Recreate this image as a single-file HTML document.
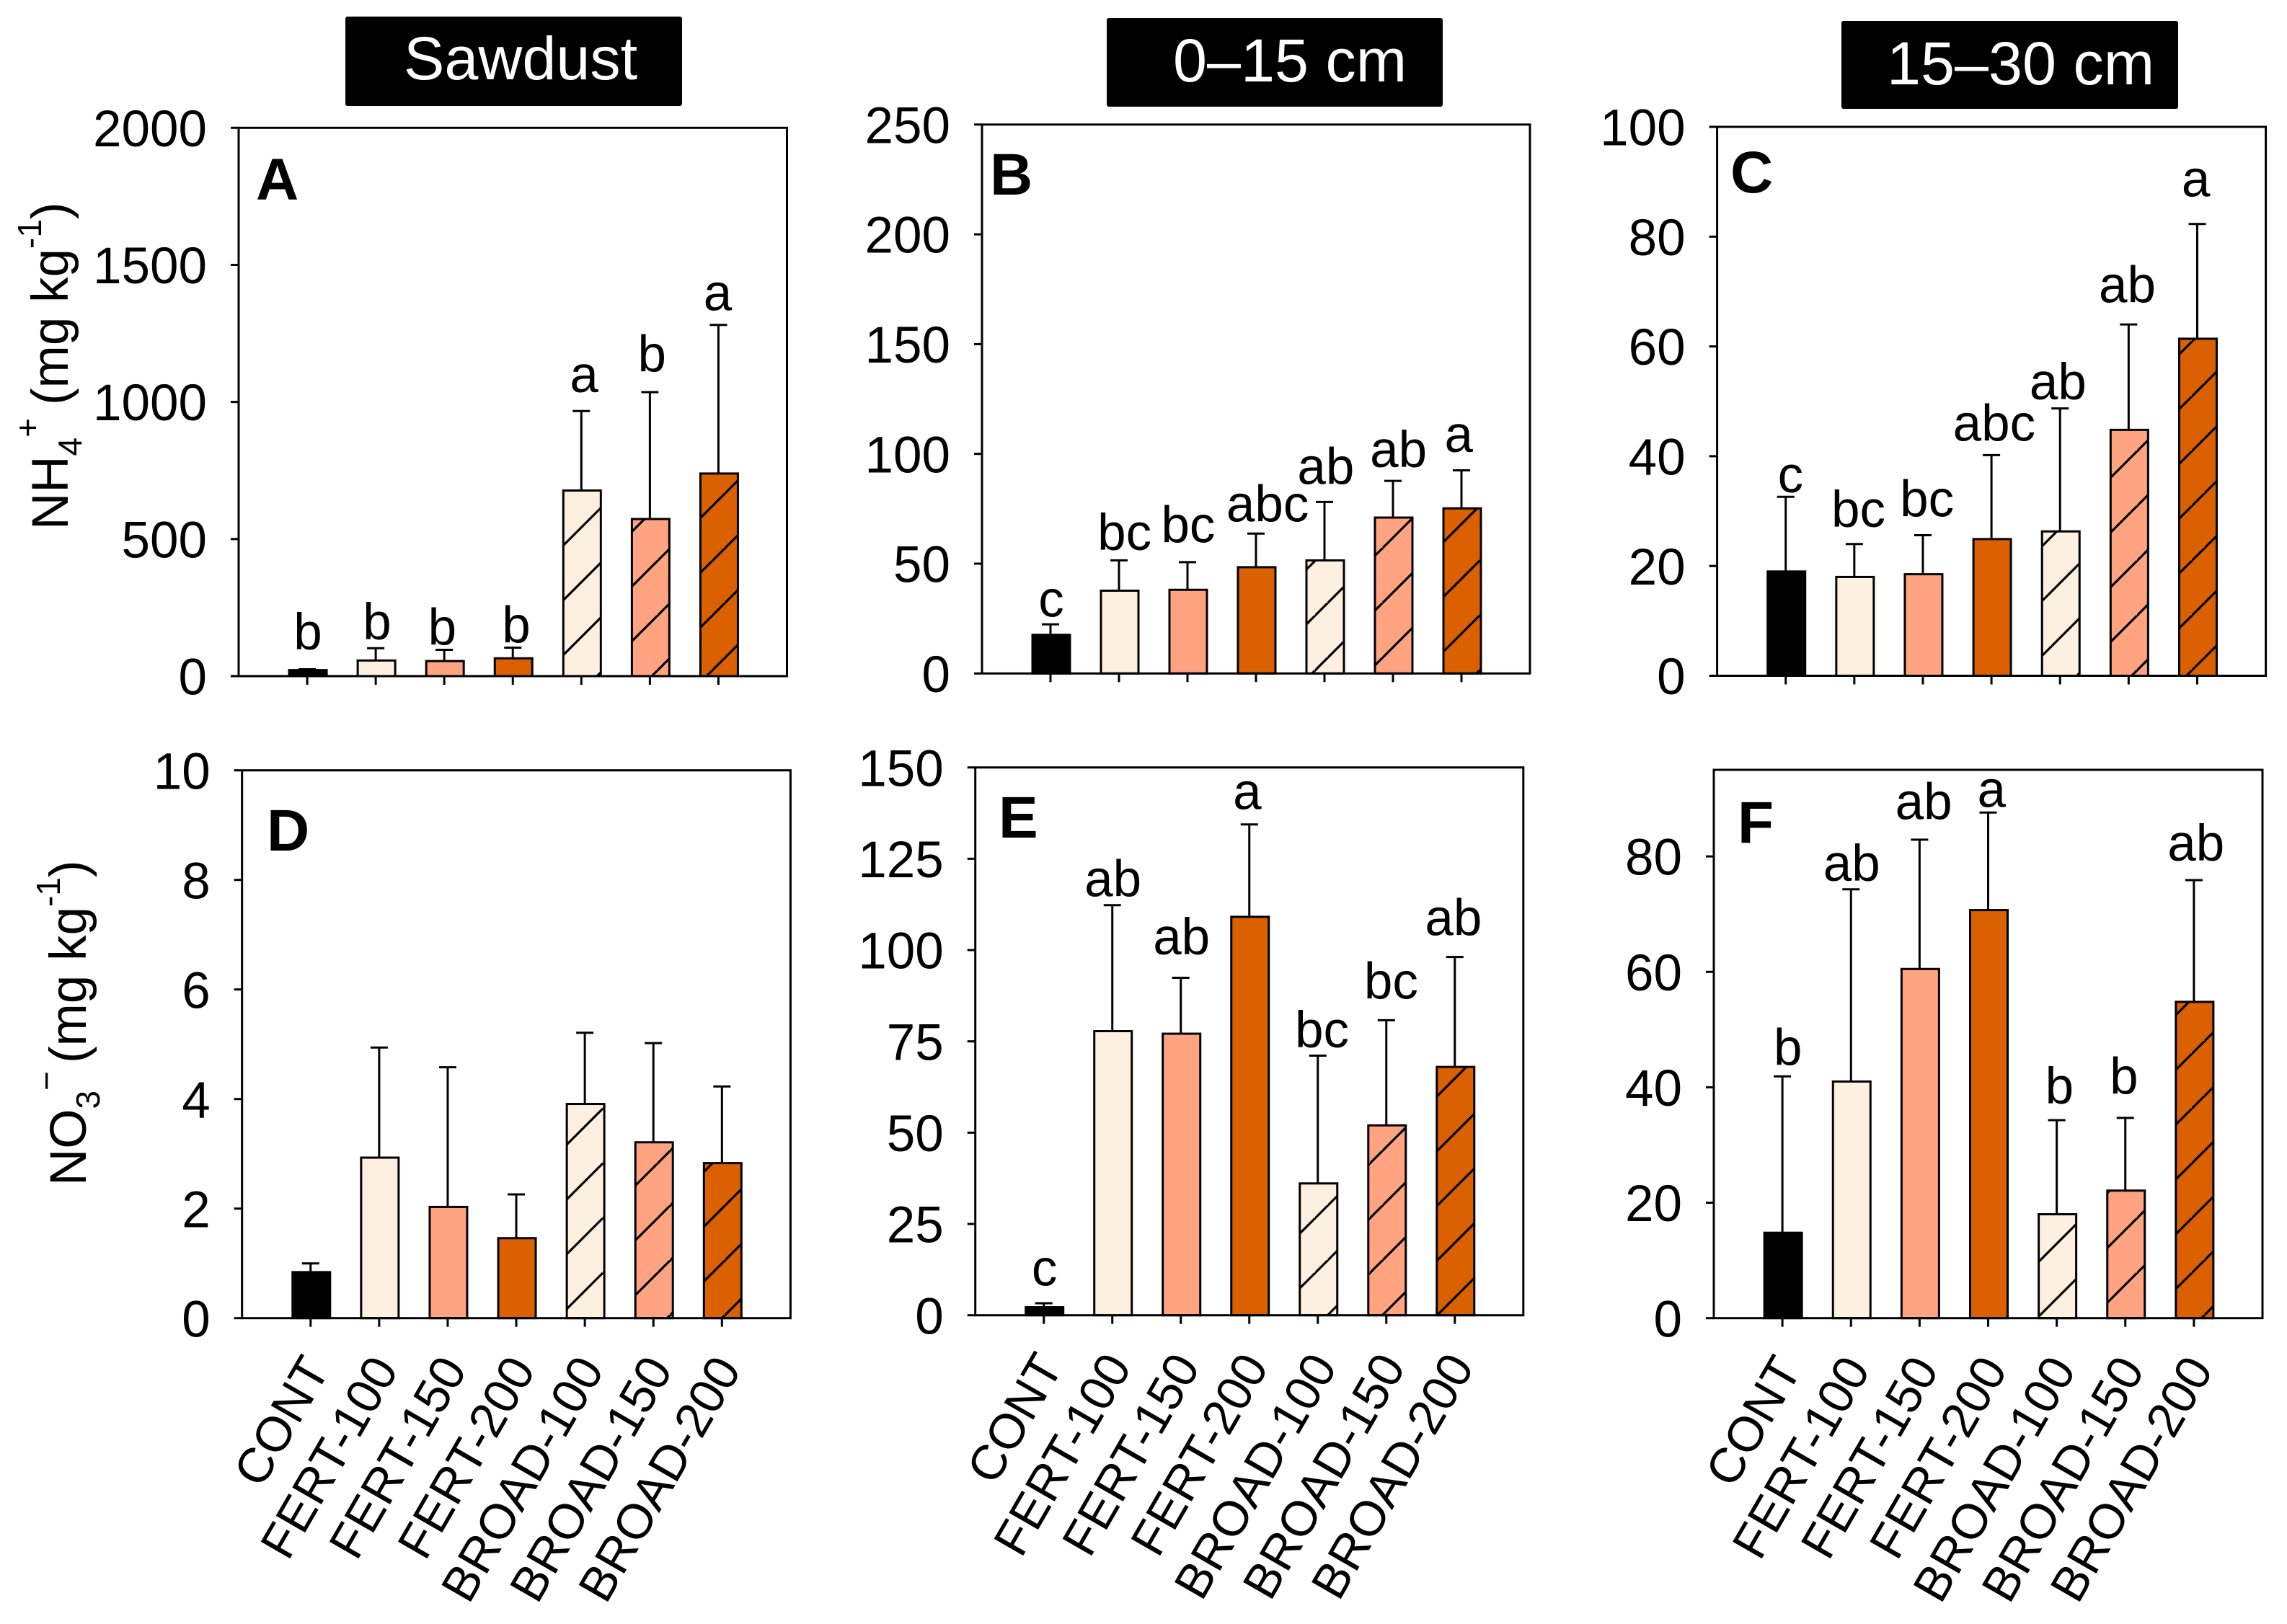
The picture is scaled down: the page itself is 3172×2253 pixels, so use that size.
<!DOCTYPE html>
<html lang="en">
<head>
<meta charset="utf-8">
<title>Soil NH4+ and NO3- by treatment</title>
<style>
html,body{margin:0;padding:0;background:#fff;}
body{width:3172px;height:2253px;overflow:hidden;}
svg{display:block;}
text{font-family:"Liberation Sans",sans-serif;fill:#000;}
</style>
</head>
<body>
<svg id="figure" xmlns="http://www.w3.org/2000/svg" width="3172" height="2253" viewBox="0 0 3172 2253">
  <defs>
    <pattern id="hatch" patternUnits="userSpaceOnUse" width="76" height="76">
      <line x1="-20" y1="38" x2="38" y2="-20" stroke="#000" stroke-width="3.2"/>
      <line x1="18" y1="76" x2="76" y2="18" stroke="#000" stroke-width="3.2"/>
      <line x1="56" y1="114" x2="114" y2="56" stroke="#000" stroke-width="3.2"/>
    </pattern>
  </defs>
  <rect width="3172" height="2253" fill="#fff"/>

  <g>
    <rect x="479" y="23" width="467" height="124" rx="3" fill="#000"/>
    <text x="560" y="110" font-size="84.5" style="fill:#fff">Sawdust</text>
  </g>
  <g>
    <rect x="1535" y="25" width="466" height="123" rx="3" fill="#000"/>
    <text x="1627" y="113" font-size="84.5" style="fill:#fff">0–15 cm</text>
  </g>
  <g>
    <rect x="2554" y="29" width="467" height="122" rx="3" fill="#000"/>
    <text x="2617" y="117" font-size="84.5" style="fill:#fff">15–30 cm</text>
  </g>

  <text transform="translate(94,735) rotate(-90)" font-size="71">NH<tspan dy="19" font-size="46">4</tspan><tspan dy="-59" font-size="46">+</tspan><tspan dy="40" dx="18">(mg kg</tspan><tspan dy="-37" font-size="46">-1</tspan><tspan dy="37">)</tspan></text>
  <text transform="translate(119,1645) rotate(-90)" font-size="71">NO<tspan dy="19" font-size="46">3</tspan><tspan dy="-58" font-size="46">−</tspan><tspan dy="39" dx="11">(mg kg</tspan><tspan dy="-36" font-size="46">-1</tspan><tspan dy="36">)</tspan></text>

  <g id="panels"></g>
</svg>

<script>
const categories = ["CONT", "FERT-100", "FERT-150", "FERT-200", "BROAD-100", "BROAD-150", "BROAD-200"];

const valuesA = [22, 57, 55, 65, 677, 573, 739];
const errTopA = [25, 102, 96, 104, 967, 1036, 1281];
const lettersA = ["b", "b", "b", "b", "a", "b", "a"];
const letterLiftA = [77, 37, 23, 23, 74, 80, 59];
const letterNudgeA = [0.01, 0.02, -0.03, 0.05, 0.04, 0.03, -0.01];
const ticksA = [0, 500, 1000, 1500, 2000];

const valuesB = [17.6, 37.7, 38.1, 48.4, 51.5, 71, 75.2];
const errTopB = [22.4, 51.5, 50.7, 63.7, 78.1, 87.7, 92.5];
const lettersB = ["c", "bc", "bc", "abc", "ab", "ab", "a"];
const letterLiftB = [4.2, 5.4, 9.6, 6.1, 8.8, 6.9, 9];
const letterNudgeB = [0.01, 0.08, 0.01, 0.17, 0.02, 0.08, -0.04];
const ticksB = [0, 50, 100, 150, 200, 250];

const valuesC = [19, 18, 18.5, 24.9, 26.3, 44.8, 61.4];
const errTopC = [32.6, 24, 25.6, 40.2, 48.7, 64, 82.3];
const lettersC = ["c", "bc", "bc", "abc", "ab", "ab", "a"];
const letterLiftC = [1.1, 3.4, 3.7, 2.9, 1.9, 4.3, 5.3];
const letterNudgeC = [0.07, 0.06, 0.06, 0.04, -0.03, -0.02, -0.02];
const ticksC = [0, 20, 40, 60, 80, 100];

const valuesD = [0.84, 2.93, 2.03, 1.46, 3.91, 3.21, 2.83];
const errTopD = [1.0, 4.94, 4.58, 2.26, 5.21, 5.02, 4.23];
const lettersD = ["", "", "", "", "", "", ""];
const letterLiftD = [0, 0, 0, 0, 0, 0, 0];
const letterNudgeD = [0, 0, 0, 0, 0, 0, 0];
const ticksD = [0, 2, 4, 6, 8, 10];

const valuesE = [2.2, 77.8, 77.1, 109.1, 36.1, 52, 68];
const errTopE = [3.3, 112.3, 92.4, 134.4, 71.1, 80.8, 98.1];
const lettersE = ["c", "ab", "ab", "a", "bc", "bc", "ab"];
const letterLiftE = [5.2, 2.8, 6.8, 4.6, 2.7, 6.3, 6.3];
const letterNudgeE = [0.01, 0.01, 0.01, -0.03, 0.06, 0.07, -0.02];
const ticksE = [0, 25, 50, 75, 100, 125, 150];

const valuesF = [14.8, 41, 60.5, 70.7, 18, 22.1, 54.8];
const errTopF = [41.9, 74.3, 82.9, 87.6, 34.3, 34.7, 75.9];
const lettersF = ["b", "ab", "ab", "a", "b", "b", "ab"];
const letterLiftF = [2.2, 1.7, 3.8, 1.2, 3.1, 4.4, 3.6];
const letterNudgeF = [0.08, 0.01, 0.06, 0.05, 0.04, -0.02, 0.03];
const ticksF = [0, 20, 40, 60, 80];

const barFills = ["#000000", "#FEF0E1", "#FFA381", "#DA6000", "#FEF0E1", "#FFA381", "#DA6000"];
const barHatched = [false, false, false, false, true, true, true];

const SVGNS = "http://www.w3.org/2000/svg";
const TICK_FONT = 71;
const XLABEL_FONT = 68;
const panelsRoot = document.getElementById("panels");

function make(parent, tag, attrs, text) {
  const node = document.createElementNS(SVGNS, tag);
  for (const key in attrs) node.setAttribute(key, attrs[key]);
  if (text !== undefined) node.textContent = text;
  parent.appendChild(node);
  return node;
}

function drawPanel(cfg) {
  const w = cfg.right - cfg.left;
  const xScale = i => cfg.left + (i + 1) * w / 8;
  const yScale = v => cfg.bottom - (v / cfg.yMax) * (cfg.bottom - cfg.top);
  const step = w / 8;
  const key = cfg.id.toLowerCase();

  const g = make(panelsRoot, "g", {});
  
  

  cfg.values.forEach((v, i) => {
    const cx = xScale(i) + 1;
    const topY = yScale(v);
    const errY = yScale(cfg.errTop[i]);
    const barName = categories[i].toLowerCase();

    const errLine = make(g, "line", {x1: cx - 1, x2: cx - 1, y1: topY, y2: errY, stroke: "#000", "stroke-width": 3});
    
    

    const errCap = make(g, "line", {x1: cx - 13, x2: cx + 11, y1: errY, y2: errY, stroke: "#000", "stroke-width": 3});
    
    

    const bar = make(g, "rect", {x: cx - 26, y: topY, width: 52, height: cfg.bottom - topY, fill: barFills[i], stroke: "#000", "stroke-width": 3});
    
    

    if (barHatched[i]) {
      const hatch = make(g, "rect", {x: cx - 26, y: topY, width: 52, height: cfg.bottom - topY, fill: "url(#hatch)"});
      
      
    }

    if (cfg.letters[i]) {
      const lx = xScale(i) + cfg.nudge[i] * step;
      const ly = yScale(cfg.errTop[i] + cfg.lift[i]) + 2;
      const letter = make(g, "text", {x: lx, y: ly, "font-size": TICK_FONT, "text-anchor": "middle"}, cfg.letters[i]);
      
      
    }
  });

  const frame = make(g, "rect", {x: cfg.left, y: cfg.top, width: w, height: cfg.bottom - cfg.top, fill: "none", stroke: "#000", "stroke-width": 3});
  
  

  cfg.ticks.forEach(t => {
    const ty = yScale(t);
    const tick = make(g, "line", {x1: cfg.left - 11, x2: cfg.left, y1: ty, y2: ty, stroke: "#000", "stroke-width": 3});
    
    

    const lab = make(g, "text", {x: cfg.left - 44, y: ty + TICK_FONT * 0.36, "font-size": TICK_FONT, "text-anchor": "end"}, String(t));
    
    
  });

  categories.forEach((c, i) => {
    const tx = xScale(i);
    const tick = make(g, "line", {x1: tx, x2: tx, y1: cfg.bottom, y2: cfg.bottom + 12, stroke: "#000", "stroke-width": 3});
    
    

    if (cfg.showX) {
      const ex = tx + 28;
      const ey = cfg.bottom + 71;
      const lab = make(g, "text", {transform: "translate(" + ex + "," + ey + ") rotate(-60)", "font-size": XLABEL_FONT, "text-anchor": "end"}, c);
      
      
    }
  });

  const id = make(g, "text", {x: cfg.idX, y: cfg.idY, "font-size": 82, "font-weight": "bold"}, cfg.id);
  
  
}

drawPanel({id: "A", left: 331, right: 1091.5, top: 177.3, bottom: 938, yMax: 2000, values: valuesA, errTop: errTopA, letters: lettersA, lift: letterLiftA, nudge: letterNudgeA, ticks: ticksA, showX: false, idX: 355, idY: 277});
drawPanel({id: "B", left: 1362, right: 2122, top: 172.8, bottom: 934.3, yMax: 250, values: valuesB, errTop: errTopB, letters: lettersB, lift: letterLiftB, nudge: letterNudgeB, ticks: ticksB, showX: false, idX: 1373, idY: 270});
drawPanel({id: "C", left: 2381.6, right: 3142.6, top: 176, bottom: 937.5, yMax: 100, values: valuesC, errTop: errTopC, letters: lettersC, lift: letterLiftC, nudge: letterNudgeC, ticks: ticksC, showX: false, idX: 2400, idY: 267});
drawPanel({id: "D", left: 335.7, right: 1096.4, top: 1068.7, bottom: 1828.7, yMax: 10, values: valuesD, errTop: errTopD, letters: lettersD, lift: letterLiftD, nudge: letterNudgeD, ticks: ticksD, showX: true, idX: 370, idY: 1180});
drawPanel({id: "E", left: 1352.7, right: 2112.8, top: 1064.7, bottom: 1824.7, yMax: 150, values: valuesE, errTop: errTopE, letters: lettersE, lift: letterLiftE, nudge: letterNudgeE, ticks: ticksE, showX: true, idX: 1385, idY: 1162});
drawPanel({id: "F", left: 2377, right: 3138, top: 1068, bottom: 1828.7, yMax: 95, values: valuesF, errTop: errTopF, letters: lettersF, lift: letterLiftF, nudge: letterNudgeF, ticks: ticksF, showX: true, idX: 2410, idY: 1169});
</script>
</body>
</html>
